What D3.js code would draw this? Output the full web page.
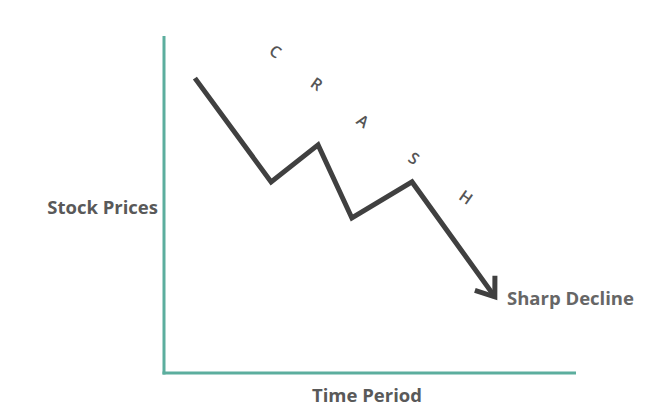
<!DOCTYPE html>
<html><head><meta charset="utf-8">
<script src="https://cdn.jsdelivr.net/npm/d3@7"></script>
<style>body{margin:0;background:#fff;} svg{display:block;}</style>
</head><body>
<script>
// Data (conceptual units: time 0-10, price 0-100)
const timePoints = [0.75, 2.6, 3.74, 4.56, 6.02, 8.03];
const priceValues = [87.5, 56.7, 67.7, 46.0, 56.7, 22.6];
const crashLetters = ["C", "R", "A", "S", "H"];
const letterTimes = [2.71, 3.71, 4.83, 6.07, 7.33];
const letterPrices = [95.5, 85.8, 74.8, 63.8, 52.2];
const yLabel = "Stock Prices", xLabel = "Time Period", endLabel = "Sharp Decline";

const W = 659, H = 418;
const svg = d3.select("body").append("svg").attr("width", W).attr("height", H);
const x = d3.scaleLinear().domain([0, 10]).range([164, 576]);
const y = d3.scaleLinear().domain([0, 100]).range([373, 36]);
const teal = "#5cae9e", gray = "#595959";

// axes
svg.append("line").attr("x1", x(0)).attr("x2", x(0)).attr("y1", y(100)).attr("y2", y(0) + 1.5)
  .attr("stroke", teal).attr("stroke-width", 3);
svg.append("line").attr("x1", x(0) - 1.5).attr("x2", x(10)).attr("y1", y(0)).attr("y2", y(0))
  .attr("stroke", teal).attr("stroke-width", 3);

// price line
const pts = timePoints.map((t, i) => [x(t), y(priceValues[i])]);
svg.append("path").attr("d", d3.line()(pts)).attr("fill", "none")
  .attr("stroke", "#404040").attr("stroke-width", 5).attr("stroke-linejoin", "miter").attr("stroke-linecap", "butt");

// arrow head (open chevron)
const tip = pts[pts.length - 1], prev = pts[pts.length - 2];
const ang = Math.atan2(prev[1] - tip[1], prev[0] - tip[0]);
const L = 21, spread = 36 * Math.PI / 180;
const a1 = [tip[0] + L * Math.cos(ang + spread), tip[1] + L * Math.sin(ang + spread)];
const a2 = [tip[0] + L * Math.cos(ang - spread), tip[1] + L * Math.sin(ang - spread)];
svg.append("path").attr("d", d3.line()([a1, tip, a2])).attr("fill", "none")
  .attr("stroke", "#404040").attr("stroke-width", 5).attr("stroke-linejoin", "miter").attr("stroke-linecap", "butt");

// CRASH letters
svg.selectAll("text.crash").data(crashLetters).enter().append("text")
  .attr("class", "crash")
  .attr("transform", (d, i) => `translate(${x(letterTimes[i])},${y(letterPrices[i])}) rotate(35)`)
  .attr("text-anchor", "middle").attr("dominant-baseline", "central")
  .attr("font-family", "Open Sans, sans-serif").attr("font-weight", 600).attr("font-size", 16)
  .attr("fill", "#555").text(d => d);

const font = "Open Sans, sans-serif";
svg.append("text").attr("x", 158).attr("y", 214).attr("text-anchor", "end")
  .attr("font-family", font).attr("font-weight", 700).attr("font-size", 18.5).attr("fill", gray).text(yLabel);
svg.append("text").attr("x", 367).attr("y", 402).attr("text-anchor", "middle")
  .attr("font-family", font).attr("font-weight", 700).attr("font-size", 18.5).attr("fill", gray).text(xLabel);
svg.append("text").attr("x", 507).attr("y", 305).attr("text-anchor", "start")
  .attr("font-family", font).attr("font-weight", 700).attr("font-size", 18.5).attr("fill", "#666").text(endLabel);
</script>
</body></html>
